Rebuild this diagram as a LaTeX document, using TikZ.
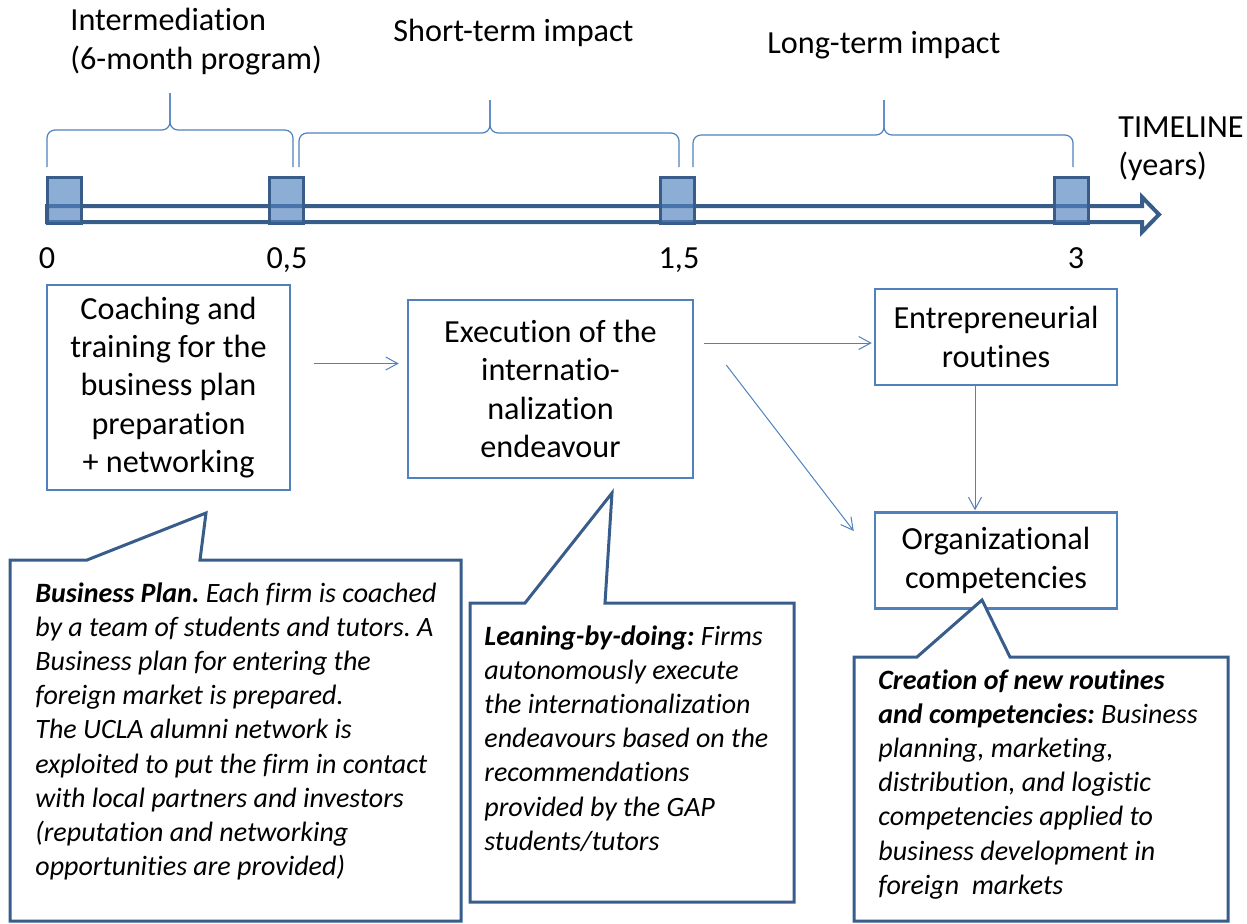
\documentclass[tikz,border=0pt]{standalone}
\usepackage{fontspec}
\setmainfont{Carlito}[Ligatures=NoCommon]
\usetikzlibrary{arrows.meta}
\definecolor{boxblue}{HTML}{4F81BD}
\definecolor{darkblue}{HTML}{385D8A}
\frenchspacing

\tikzset{
	stage/.style={draw=boxblue, line width=1.25pt, align=center, inner sep=0pt,
		font=\fontsize{16.1}{19.2}\selectfont},
	head/.style={align=left, anchor=north west, inner sep=0pt,
		font=\fontsize{16.1}{19.2}\selectfont},
	year/.style={anchor=base, inner sep=0pt, font=\fontsize{16.1}{19.2}\selectfont},
	tick/.style={draw=darkblue, line width=1.5pt, fill=boxblue, fill opacity=0.65,
		minimum width=17pt, minimum height=23pt, inner sep=0pt},
	span/.style={draw=boxblue, line width=0.6pt, rounded corners=4pt},
	flow/.style={->, >={Straight Barb[length=6pt,width=6.5pt]}, draw=boxblue, line width=0.5pt},
	callout/.style={draw=darkblue, line width=1.5pt, fill=white},
	note/.style={align=left, anchor=north west, inner sep=0pt,
		font=\fontsize{14}{17.1}\selectfont\itshape}
}

% brace over a period: x1, x2, middle, bar, tip
\newcommand{\timebrace}[5]{%
	\draw[span] (#1,167) |- (#3,#4) -- (#3,#5);
	\draw[span] (#2,167) |- (#3,#4) -- (#3,#5);}

\begin{document}
\begin{tikzpicture}[x=0.5pt, y=-0.5pt]
		\useasboundingbox (0,0) rectangle (1247,923);

		% Periodos
		\node[head] (inter) at (70,8) {Intermediation\\(6-month program)};
		\node[head] (short) at (393,19) {Short-term impact};
		\node[head] (long) at (767,31) {Long-term impact};
		\node[head] (tl) at (1118,116) {TIMELINE\\(years)};

		% Chaves
		\timebrace{47}{293}{170}{130}{93}
		\timebrace{299}{679}{490}{133}{100}
		\timebrace{693}{1073}{884}{135}{100}

		% Linha do tempo
		\draw[draw=darkblue, line width=2pt, fill=white]
			(47,206) -- (1142,206) -- (1142,197) -- (1159,214.5)
			-- (1142,232) -- (1142,222) -- (47,222) -- cycle;
		\node[tick] (t0)  at (64,200)   {};
		\node[tick] (t05) at (286,200)  {};
		\node[tick] (t15) at (677,200)  {};
		\node[tick] (t3)  at (1071,200) {};
		\node[year] (y0)  at (47,268)   {0};
		\node[year] (y05) at (287,268)  {0,5};
		\node[year] (y15) at (679,268)  {1,5};
		\node[year] (y3)  at (1076,268) {3};

		% Etapas
		\node[stage, minimum width=121.5pt, minimum height=102.5pt] (coach) at (168.5,387.5)
			{Coaching and\\training for the\\business plan\\preparation\\+ networking};
		\node[stage, minimum width=142.5pt, minimum height=89pt] (exec) at (550.5,389)
			{Execution of the\\internatio-\\nalization\\endeavour};
		\node[stage, minimum width=121pt, minimum height=48pt] (routines) at (996,337)
			{Entrepreneurial\\routines};
		\node[stage, minimum width=121pt, minimum height=48pt] (orgcomp) at (996,560.5)
			{Organizational\\competencies};

		% Setas
		\coordinate (l1) at ([yshift=12pt]coach.east);
		\coordinate (l2) at ([yshift=23pt]exec.east);
		\draw[flow, shorten <=11.5pt, shorten >=4pt] (l1) -- (l1 -| exec.west);
		\draw[flow, shorten <=5pt, shorten >=1pt] (l2) -- (l2 -| routines.west);
		\draw[flow] ([xshift=16pt,yshift=12pt]exec.east) -- ([xshift=-10pt,yshift=14.75pt]orgcomp.west);
		\draw[flow, shorten >=0.5pt] ([xshift=-10.5pt]routines.south) -- ([xshift=-10.5pt]orgcomp.north);

		% Baloes
		\draw[callout] (10,560) -- (87,560) -- (206,513) -- (200,560) -- (461,560)
			-- (461,921) -- (10,921) -- cycle;
		\node[note] (plan) at (35,582)
			{\textbf{Business Plan.} Each firm is coached\\
			by a team of students and tutors. A\\
			Business plan for entering the\\
			foreign market is prepared.\\
			The UCLA alumni network is\\
			exploited to put the firm in contact\\
			with local partners and investors\\
			(reputation and networking\\
			opportunities are provided)};

		\draw[callout] (470,603) -- (525,603) -- (612,493) -- (605,603) -- (794,603)
			-- (794,902) -- (470,902) -- cycle;
		\node[note] (doing) at (484,625)
			{\textbf{Leaning-by-doing:} Firms\\
			autonomously execute\\
			the internationalization\\
			endeavours based on the\\
			recommendations\\
			provided by the GAP\\
			students/tutors};

		\draw[callout] (854,657) -- (917,657) -- (982,600) -- (1010,657) -- (1228,657)
			-- (1228,921) -- (854,921) -- cycle;
		\node[note] (creation) at (878,669)
			{\textbf{Creation of new routines}\\
			\textbf{and competencies:} Business\\
			planning, marketing,\\
			distribution, and logistic\\
			competencies applied to\\
			business development in\\
			foreign~ markets};
	\end{tikzpicture}
\end{document}
